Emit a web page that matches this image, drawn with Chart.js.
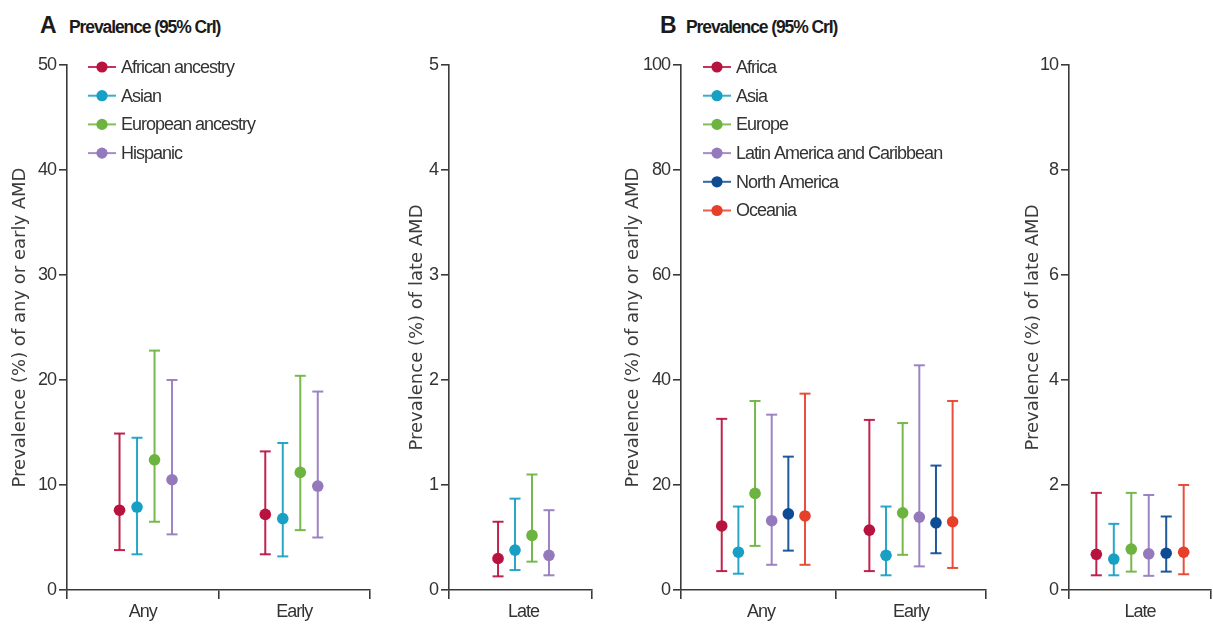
<!DOCTYPE html>
<html>
<head>
<meta charset="utf-8">
<title>Prevalence of AMD (95% CrI)</title>
<script src="https://cdn.jsdelivr.net/npm/chart.js@4.4.1/dist/chart.umd.min.js"></script>
<style>
  html, body { margin: 0; padding: 0; background: #ffffff; }
  body { width: 1213px; height: 626px; position: relative; overflow: hidden; }
  canvas { position: absolute; top: 0; }
  .hdr { position: absolute; white-space: nowrap; color: #1b1b1b; font-weight: bold; line-height: 1; }
  .hdr.letter { font-family: "Liberation Sans", Arial, sans-serif; font-size: 23px; top: 14px; }
  .hdr.text { font-family: "Liberation Sans", Arial, sans-serif; font-size: 17.5px; letter-spacing: -1.1px; top: 19px; }
</style>
</head>
<body>
<div class="hdr letter" style="left:40px">A</div>
<div class="hdr text" style="left:69px">Prevalence (95% CrI)</div>
<div class="hdr letter" style="left:660px">B</div>
<div class="hdr text" style="left:686px">Prevalence (95% CrI)</div>

<canvas id="ethAnyEarly" width="368" height="626" style="left:6px"></canvas>
<canvas id="ethLate" width="193" height="626" style="left:403px"></canvas>
<canvas id="regAnyEarly" width="371" height="626" style="left:619px"></canvas>
<canvas id="regLate" width="194" height="626" style="left:1019px"></canvas>

<script>
// ---- Categories and tick labels ----
const anyEarlyCats = ['Any', 'Early'];
const lateCats = ['Late'];

// ---- A: by ethnicity ----
const ethnicGroups = ['African ancestry', 'Asian', 'European ancestry', 'Hispanic'];
const ethnicColors = ['#b8123f', '#179fc4', '#6cb33f', '#9579bd'];

const ethnicAnyMid   = [7.6, 7.9, 12.4, 10.5];
const ethnicAnyLow   = [3.8, 3.4, 6.5, 5.3];
const ethnicAnyHigh  = [14.9, 14.5, 22.8, 20.0];

const ethnicEarlyMid  = [7.2, 6.8, 11.2, 9.9];
const ethnicEarlyLow  = [3.4, 3.2, 5.7, 5.0];
const ethnicEarlyHigh = [13.2, 14.0, 20.4, 18.9];

const ethnicLateMid  = [0.30, 0.38, 0.52, 0.33];
const ethnicLateLow  = [0.13, 0.19, 0.27, 0.14];
const ethnicLateHigh = [0.65, 0.87, 1.10, 0.76];

// ---- B: by region ----
const regions = ['Africa', 'Asia', 'Europe', 'Latin America and Caribbean', 'North America', 'Oceania'];
const regionColors = ['#b8123f', '#179fc4', '#6cb33f', '#9579bd', '#0d4c92', '#e6402b'];

const regionAnyMid   = [12.2, 7.2, 18.4, 13.2, 14.5, 14.1];
const regionAnyLow   = [3.6, 3.1, 8.4, 4.8, 7.5, 4.8];
const regionAnyHigh  = [32.6, 15.9, 36.0, 33.4, 25.4, 37.4];

const regionEarlyMid  = [11.4, 6.6, 14.7, 13.9, 12.8, 13.0];
const regionEarlyLow  = [3.6, 2.8, 6.7, 4.5, 7.0, 4.2];
const regionEarlyHigh = [32.4, 15.9, 31.8, 42.8, 23.7, 36.0];

const regionLateMid  = [0.68, 0.59, 0.78, 0.69, 0.70, 0.72];
const regionLateLow  = [0.28, 0.28, 0.35, 0.27, 0.35, 0.30];
const regionLateHigh = [1.85, 1.26, 1.85, 1.81, 1.40, 2.00];

// ---- styling ----
const LABEL_FONT = '"Liberation Sans", Arial, sans-serif';
const TITLE_FONT = '"DejaVu Sans", Verdana, sans-serif';
const TIGHT = '-1px';
const AXIS = '#3a3a3a';
const TEXT = '#333333';

function fade(hex, a) {
  const n = parseInt(hex.slice(1), 16);
  return `rgba(${(n >> 16) & 255},${(n >> 8) & 255},${n & 255},${a})`;
}

// Median dots plus interval whiskers (with caps) for every series and category.
// groupShift nudges each category's cluster sideways (in axis units).
function buildDatasets(names, colors, mids, lows, highs, step, groupShift) {
  const n = names.length;
  const shift = groupShift || [];
  const out = [];
  names.forEach((name, i) => {
    const off = (i - (n - 1) / 2) * step;
    const whisker = [];
    const centre = [];
    mids.forEach((m, c) => {
      const x = c + 0.5 + (shift[c] || 0) + off;
      whisker.push({ x, y: lows[c][i] }, { x, y: highs[c][i] }, { x, y: null });
      centre.push({ x, y: m[i] });
    });
    const lineCol = fade(colors[i], 0.92);
    out.push({
      type: 'line', label: name + ' 95% CrI', data: whisker,
      borderColor: lineCol, borderWidth: 2, spanGaps: false, fill: false,
      pointStyle: 'line', pointRadius: 5.5, pointBorderWidth: 2, pointBorderColor: lineCol,
      pointHoverRadius: 5.5, order: 1
    });
    out.push({
      type: 'scatter', label: name, data: centre,
      backgroundColor: colors[i], borderWidth: 0, pointRadius: 5.8, pointHoverRadius: 5.8, order: 0
    });
  });
  return out;
}

// Tighter letter spacing for the condensed-looking tick labels
const tightText = {
  id: 'tightText',
  beforeUpdate(chart) { chart.ctx.letterSpacing = TIGHT; },
  beforeDraw(chart) { chart.ctx.letterSpacing = TIGHT; }
};

// Rotated y-axis title, centred on the plot area
const sideTitle = {
  id: 'sideTitle',
  afterDraw(chart, args, opts) {
    if (!opts || !opts.text) return;
    const { ctx, chartArea } = chart;
    ctx.save();
    ctx.letterSpacing = '0px';
    ctx.font = `${opts.size}px ${TITLE_FONT}`;
    ctx.fillStyle = '#3c3c3c';
    ctx.textAlign = 'center';
    ctx.textBaseline = 'middle';
    ctx.translate(opts.x, (chartArea.top + chartArea.bottom) / 2);
    ctx.rotate(-Math.PI / 2);
    ctx.fillText(opts.text, 0, 0);
    ctx.restore();
  }
};

// Legend drawn as a short line with a dot, stacked inside the plot area
const lineLegend = {
  id: 'lineLegend',
  afterDraw(chart, args, opts) {
    if (!opts || !opts.names) return;
    const { ctx, chartArea } = chart;
    ctx.save();
    ctx.letterSpacing = TIGHT;
    ctx.font = `18px ${LABEL_FONT}`;
    ctx.textBaseline = 'middle';
    ctx.textAlign = 'left';
    opts.names.forEach((name, i) => {
      const x = chartArea.left + opts.dx;
      const y = chartArea.top + opts.dy + i * opts.gap;
      ctx.strokeStyle = fade(opts.colors[i], 0.85);
      ctx.lineWidth = 2;
      ctx.beginPath();
      ctx.moveTo(x, y);
      ctx.lineTo(x + 28, y);
      ctx.stroke();
      ctx.fillStyle = opts.colors[i];
      ctx.beginPath();
      ctx.arc(x + 14, y, 5.6, 0, Math.PI * 2);
      ctx.fill();
      ctx.fillStyle = TEXT;
      ctx.fillText(name, x + 33, y + 1);
    });
    ctx.restore();
  }
};

function makePanel(id, cfg) {
  const nCats = cfg.cats.length;
  const xMin = cfg.xMin || 0;
  const tickVals = [xMin];
  for (let v = 1; v <= nCats * 2; v++) tickVals.push(v / 2);
  const isLabelTick = (v) => Math.abs((v % 1) - 0.5) < 1e-6;
  return new Chart(document.getElementById(id), {
    type: 'scatter',
    data: { datasets: cfg.datasets },
    plugins: [tightText, sideTitle, lineLegend],
    options: {
      responsive: false,
      animation: false,
      events: [],
      layout: { autoPadding: false, padding: { top: 65, right: cfg.padRight, bottom: 0, left: 0 } },
      plugins: {
        legend: { display: false },
        tooltip: { enabled: false },
        sideTitle: { text: cfg.yTitle, x: 14, size: 18 },
        lineLegend: cfg.legend || {}
      },
      scales: {
        x: {
          type: 'linear', min: xMin, max: nCats,
          afterBuildTicks: (s) => { s.ticks = tickVals.map(v => ({ value: v })); },
          afterFit: (s) => { s.height = 36; },
          border: { display: true, color: AXIS, width: 1.6 },
          grid: {
            drawOnChartArea: false, drawTicks: true, tickLength: 9, lineWidth: 1.6,
            tickColor: (c) => (c.tick && !isLabelTick(c.tick.value) ? AXIS : 'rgba(0,0,0,0)')
          },
          ticks: {
            autoSkip: false, maxRotation: 0, padding: 2, color: TEXT,
            font: { family: LABEL_FONT, size: 18 },
            callback: (v) => (isLabelTick(v) ? cfg.cats[Math.floor(v)] : '')
          }
        },
        y: {
          type: 'linear', min: 0, max: cfg.yMax,
          afterFit: (s) => { s.width = cfg.yWidth; },
          border: { display: true, color: AXIS, width: 1.6 },
          grid: { drawOnChartArea: false, drawTicks: true, tickLength: 8, lineWidth: 1.6, tickColor: AXIS },
          ticks: {
            stepSize: cfg.yStep, padding: 3, color: TEXT,
            font: { family: LABEL_FONT, size: 18 }
          }
        }
      }
    }
  });
}

makePanel('ethAnyEarly', {
  cats: anyEarlyCats, yMax: 50, yStep: 10, yWidth: 61, padRight: 4,
  yTitle: 'Prevalence (%) of any or early AMD',
  datasets: buildDatasets(ethnicGroups, ethnicColors,
    [ethnicAnyMid, ethnicEarlyMid], [ethnicAnyLow, ethnicEarlyLow], [ethnicAnyHigh, ethnicEarlyHigh],
    0.1155, [0.02, -0.018]),
  legend: { names: ethnicGroups, colors: ethnicColors, dx: 21, dy: 2, gap: 28.7 }
});

makePanel('ethLate', {
  cats: lateCats, yMax: 5, yStep: 1, yWidth: 46, padRight: 4, xMin: -0.044,
  yTitle: 'Prevalence (%) of late AMD',
  datasets: buildDatasets(ethnicGroups, ethnicColors,
    [ethnicLateMid], [ethnicLateLow], [ethnicLateHigh], 0.124)
});

makePanel('regAnyEarly', {
  cats: anyEarlyCats, yMax: 100, yStep: 20, yWidth: 62, padRight: 4, xMin: -0.033,
  yTitle: 'Prevalence (%) of any or early AMD',
  datasets: buildDatasets(regions, regionColors,
    [regionAnyMid, regionEarlyMid], [regionAnyLow, regionEarlyLow], [regionAnyHigh, regionEarlyHigh],
    0.111, [0.016, 0]),
  legend: { names: regions, colors: regionColors, dx: 22, dy: 2, gap: 28.7 }
});

makePanel('regLate', {
  cats: lateCats, yMax: 10, yStep: 2, yWidth: 50, padRight: 1,
  yTitle: 'Prevalence (%) of late AMD',
  datasets: buildDatasets(regions, regionColors,
    [regionLateMid], [regionLateLow], [regionLateHigh], 0.123)
});
</script>
</body>
</html>
